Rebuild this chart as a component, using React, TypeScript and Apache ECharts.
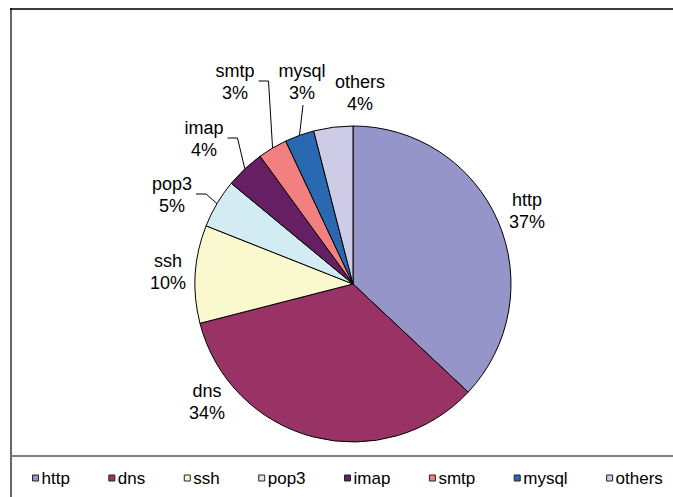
import React, { useEffect, useRef } from "react";
import * as echarts from "echarts";

// Share of traffic per protocol, in percent, listed clockwise from 12 o'clock.
const protocols = ["http", "dns", "ssh", "pop3", "imap", "smtp", "mysql", "others"];
const shares = [37, 34, 10, 5, 4, 3, 3, 4];
const sliceColors = [
  "#9595C9",
  "#993366",
  "#FAF8CE",
  "#D3ECF4",
  "#661F62",
  "#F28080",
  "#2A68B2",
  "#CDCBE6",
];

// Where each two-line label block is centred, in pixels.
const labelCentres: [number, number][] = [
  [527, 211],
  [207, 402],
  [168, 272],
  [172, 195],
  [204, 139],
  [235, 82],
  [302, 82],
  [360, 93],
];
// How each label connects back to its slice.
const leaderKinds = ["none", "none", "none", "elbow", "elbow", "elbow", "below", "none"];

const FONT = "'Liberation Sans', Arial, Helvetica, sans-serif";

export default function App() {
  const ref = useRef<HTMLDivElement>(null);

  useEffect(() => {
    if (!ref.current) return;
    const chart = echarts.init(ref.current, undefined, { renderer: "svg" });

    const data = protocols.map((name, i) => ({
      name,
      value: shares[i],
      itemStyle: { color: sliceColors[i] },
      labelLine: { show: leaderKinds[i] !== "none" },
    }));

    chart.setOption({
      animation: false,
      backgroundColor: "#ffffff",
      graphic: [
        {
          type: "line",
          shape: { x1: 10, y1: 9, x2: 673, y2: 9 },
          style: { stroke: "#3c3c3c", lineWidth: 2 },
        },
        {
          type: "line",
          shape: { x1: 11, y1: 8, x2: 11, y2: 497 },
          style: { stroke: "#000000", lineWidth: 1.2 },
        },
        {
          type: "line",
          shape: { x1: 11, y1: 456, x2: 673, y2: 456 },
          style: { stroke: "#808080", lineWidth: 2 },
        },
      ],
      legend: {
        data: protocols,
        left: 32,
        top: 468,
        padding: 0,
        itemWidth: 6,
        itemHeight: 6,
        itemGap: 38.5,
        icon: "rect",
        selectedMode: false,
        itemStyle: { borderColor: "#222222", borderWidth: 1 },
        textStyle: {
          fontFamily: FONT,
          fontSize: 17,
          color: "#000000",
          lineHeight: 20,
          padding: [0, 0, 0, -2],
        },
      },
      series: [
        {
          type: "pie",
          center: [353, 284],
          radius: 158,
          startAngle: 90,
          clockwise: true,
          avoidLabelOverlap: false,
          minShowLabelAngle: 0,
          itemStyle: { borderColor: "#000000", borderWidth: 1 },
          emphasis: { disabled: true },
          label: {
            show: true,
            position: "outside",
            formatter: (p: any) => `${p.name}\n${p.value}%`,
            fontFamily: FONT,
            fontSize: 18,
            lineHeight: 22,
            color: "#000000",
          },
          labelLine: {
            show: true,
            length: 10,
            length2: 10,
            smooth: false,
            lineStyle: { color: "#000000", width: 1 },
          },
          labelLayout: (p: any) => {
            const i = p.dataIndex;
            const [x, y] = labelCentres[i];
            const w = p.labelRect.width;
            const h = p.labelRect.height;
            const out: any = { x, y, align: "center", verticalAlign: "middle" };
            const start = p.labelLinePoints ? p.labelLinePoints[0] : null;
            if (start && leaderKinds[i] === "elbow") {
              const right = x + w / 2;
              out.labelLinePoints = [start, [right + 14, y - 1], [right + 4, y - 1]];
            } else if (start && leaderKinds[i] === "below") {
              out.labelLinePoints = [start, [x + 1, y + h / 2 + 1]];
            }
            return out;
          },
          data,
        },
      ],
    });

    return () => chart.dispose();
  }, []);

  return (
    <div
      ref={ref}
      style={{ position: "fixed", left: 0, top: 0, width: 673, height: 497 }}
    />
  );
}
